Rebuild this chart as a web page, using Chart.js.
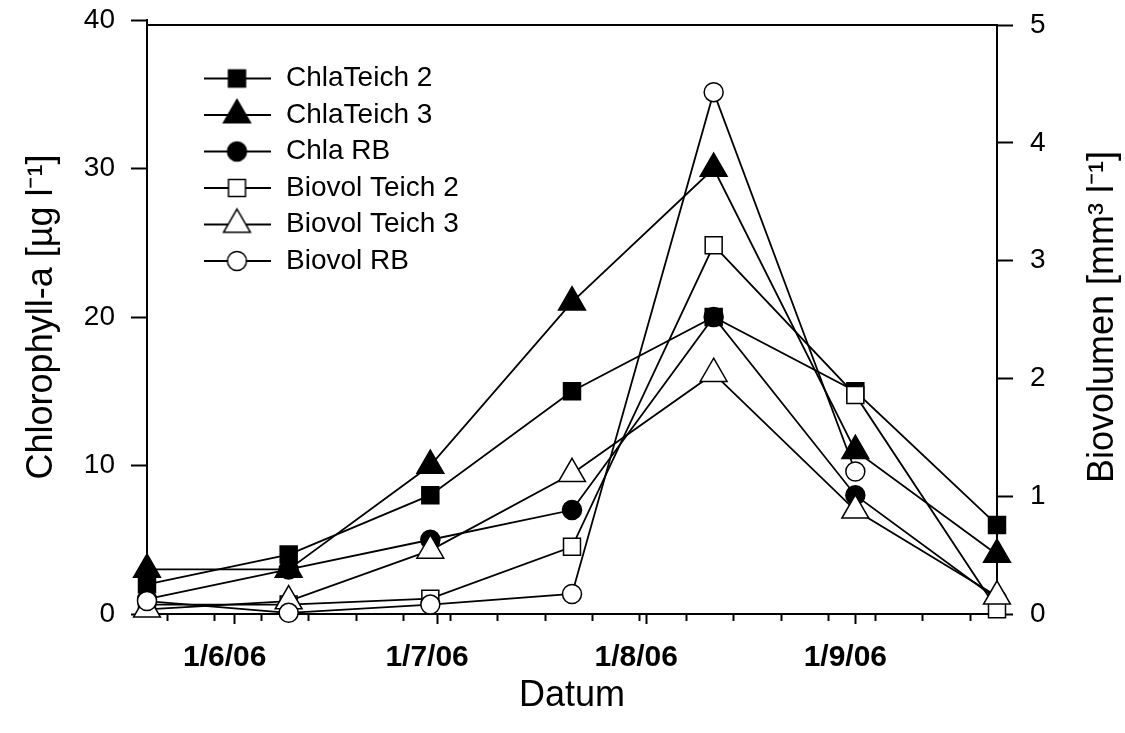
<!DOCTYPE html>
<html><head><meta charset="utf-8">
<script src="https://cdn.jsdelivr.net/npm/chart.js@4.4.1/dist/chart.umd.min.js"></script>
<style>html,body{margin:0;padding:0;background:#fff;}canvas{display:block;}</style>
</head><body>
<canvas id="c" width="1125" height="733"></canvas>
<script>
// ---------------- data ----------------
const sampleDates = ['2006-05-19','2006-06-09','2006-06-30','2006-07-21','2006-08-11','2006-09-01','2006-09-22'];
const chlaTeich2   = [2, 4, 8, 15, 20, 15, 6];
const chlaTeich3   = [3, 3, 10, 21, 30, 11, 4];
const chlaRB       = [1, 3, 5, 7, 20, 8, 1];
const biovolTeich2 = [0.08, 0.08, 0.13, 0.57, 3.13, 1.86, 0.04];
const biovolTeich3 = [0.04, 0.11, 0.54, 1.19, 2.04, 0.88, 0.15];
const biovolRB     = [0.11, 0.01, 0.08, 0.17, 4.43, 1.21, null];
const seriesNames  = ['ChlaTeich 2','ChlaTeich 3','Chla RB','Biovol Teich 2','Biovol Teich 3','Biovol RB'];
const seriesValues = [chlaTeich2, chlaTeich3, chlaRB, biovolTeich2, biovolTeich3, biovolRB];
const xRange = ['2006-05-19', '2006-09-22'];
const monthTickDates  = ['2006-06-01','2006-07-01','2006-08-01','2006-09-01'];
const monthTickLabels = ['1/6/06','1/7/06','1/8/06','1/9/06'];
const weekTickDates = ['2006-05-22','2006-05-29','2006-06-05','2006-06-12','2006-06-19','2006-06-26',
  '2006-07-03','2006-07-10','2006-07-17','2006-07-24','2006-07-31','2006-08-07','2006-08-14',
  '2006-08-21','2006-08-28','2006-09-04','2006-09-11','2006-09-18'];
const leftTicks  = [0, 10, 20, 30, 40];
const rightTicks = [0, 1, 2, 3, 4, 5];
const xTitle = 'Datum';
const leftTitle = 'Chlorophyll-a [µg l⁻¹]';
const rightTitle = 'Biovolumen [mm³ l⁻¹]';

// ---------------- styles ----------------
const FONT = "'Liberation Sans', Arial, Helvetica, sans-serif";
const markerStyles = [
  {style: 'rect', r: 12, fill: '#000'},
  {style: 'triangle', r: 15.5, fill: '#000'},
  {style: 'circle', r: 9.5, fill: '#000'},
  {style: 'rect', r: 12, fill: '#fff'},
  {style: 'triangle', r: 15.5, fill: '#fff'},
  {style: 'circle', r: 9.5, fill: '#fff'}
];

const toDay = s => Date.UTC(+s.slice(0, 4), +s.slice(5, 7) - 1, +s.slice(8, 10)) / 86400000;
const xs = sampleDates.map(toDay);

function legendIcon(m) {
  const c = document.createElement('canvas');
  c.width = 67; c.height = 40;
  const g = c.getContext('2d');
  g.strokeStyle = '#000'; g.lineWidth = 1.8;
  g.beginPath(); g.moveTo(0, 20); g.lineTo(67, 20); g.stroke();
  g.fillStyle = m.fill; g.strokeStyle = '#000'; g.lineWidth = 1.5;
  Chart.helpers.drawPoint(g, {pointStyle: m.style, radius: m.r, borderWidth: 1.5, rotation: 0}, 33.5, 20);
  return c;
}
const legendIcons = markerStyles.map(legendIcon);

const datasets = seriesNames.map((name, i) => ({
  label: name,
  data: seriesValues[i].map((v, k) => ({x: xs[k], y: v})),
  xAxisID: 'x',
  yAxisID: i < 3 ? 'y' : 'y2',
  borderColor: '#000',
  borderWidth: 1.8,
  backgroundColor: markerStyles[i].fill,
  pointStyle: markerStyles[i].style,
  pointRadius: markerStyles[i].r,
  pointHoverRadius: markerStyles[i].r,
  pointBackgroundColor: markerStyles[i].fill,
  pointBorderColor: '#000',
  pointBorderWidth: 1.5,
  tension: 0,
  fill: false,
  spanGaps: false,
  clip: false,
  order: seriesNames.length - i
}));

const framePlugin = {
  id: 'frame',
  beforeDatasetsDraw(chart) {
    const ctx = chart.ctx, a = chart.chartArea, y2 = chart.scales.y2;
    const yTop = y2.getPixelForValue(rightTicks[rightTicks.length - 1]);
    ctx.save();
    ctx.strokeStyle = '#000'; ctx.lineWidth = 2;
    ctx.beginPath();
    ctx.moveTo(a.left, yTop); ctx.lineTo(a.right, yTop); ctx.lineTo(a.right, a.bottom + 1);
    ctx.stroke();
    ctx.restore();
  },
  afterDraw(chart) {
    const ctx = chart.ctx, a = chart.chartArea;
    ctx.save();
    ctx.font = '36px ' + FONT;
    ctx.fillStyle = '#000';
    ctx.textAlign = 'center'; ctx.textBaseline = 'middle';
    ctx.translate(a.right + 106, (a.top + a.bottom) / 2);
    ctx.rotate(-Math.PI / 2);
    ctx.fillText(rightTitle, 0, 0);
    ctx.restore();
  }
};

const legendPlace = {
  id: 'legendPlace',
  afterLayout(chart) {
    const lg = chart.legend; if (!lg) return;
    const a = chart.chartArea;
    lg.left = a.left + 46.5;
    lg.top = a.top + 36;
    lg.right = lg.left + lg.width;
    lg.bottom = lg.top + lg.height;
  }
};

const baseLegendLabels = Chart.defaults.plugins.legend.labels.generateLabels;
const noPad = s => { s.paddingTop = 0; s.paddingBottom = 0; };

new Chart(document.getElementById('c'), {
  type: 'line',
  data: {datasets},
  options: {
    responsive: false,
    animation: false,
    devicePixelRatio: 1,
    layout: {padding: {top: 20, left: 0, right: 0, bottom: 0}},
    plugins: {
      tooltip: {enabled: false},
      legend: {
        position: 'chartArea',
        fullSize: false,
        align: 'start',
        labels: {
          usePointStyle: true,
          pointStyleWidth: 70,
          padding: 8.5,
          color: '#000',
          font: {family: FONT, size: 28},
          sort: (a, b) => a.datasetIndex - b.datasetIndex,
          generateLabels(chart) {
            const items = baseLegendLabels(chart);
            items.forEach(it => { it.pointStyle = legendIcons[it.datasetIndex]; it.fontColor = '#000'; });
            return items;
          }
        }
      }
    },
    scales: {
      xm: {
        type: 'linear', position: 'bottom', weight: 0,
        min: toDay(xRange[0]), max: toDay(xRange[1]),
        afterBuildTicks: s => { s.ticks = weekTickDates.map(d => ({value: toDay(d)})); },
        afterFit: s => { s.height = 0; },
        ticks: {display: false},
        grid: {drawOnChartArea: false, drawTicks: true, tickLength: 7, tickWidth: 2, tickColor: '#000'},
        border: {display: false}
      },
      x: {
        type: 'linear', position: 'bottom', weight: 1,
        min: toDay(xRange[0]), max: toDay(xRange[1]),
        afterBuildTicks: s => { s.ticks = monthTickDates.map(d => ({value: toDay(d)})); },
        afterFit: s => { s.height = 119; },
        ticks: {
          callback: (v, i) => monthTickLabels[i],
          font: {family: FONT, size: 30, weight: 'bold'},
          color: '#000', padding: 16, labelOffset: -10,
          maxRotation: 0, autoSkip: false
        },
        grid: {drawOnChartArea: false, drawTicks: true, tickLength: 10, tickWidth: 2, tickColor: '#000'},
        border: {display: true, color: '#000', width: 2},
        title: {display: true, text: xTitle, color: '#000', font: {family: FONT, size: 36}, padding: {top: 0, bottom: 15}}
      },
      y: {
        type: 'linear', position: 'left',
        min: 0, max: 40,
        afterBuildTicks: s => { s.ticks = leftTicks.map(v => ({value: v})); },
        afterFit: s => { s.width = 147; noPad(s); },
        ticks: {font: {family: FONT, size: 28}, color: '#000', padding: 16},
        grid: {drawOnChartArea: false, drawTicks: true, tickLength: 16, tickWidth: 2, tickColor: '#000'},
        border: {display: true, color: '#000', width: 2},
        title: {display: true, text: leftTitle, color: '#000', font: {family: FONT, size: 36}, padding: {top: 20, bottom: 0}}
      },
      y2: {
        type: 'linear', position: 'right',
        min: 0, max: 5.0425,
        afterBuildTicks: s => { s.ticks = rightTicks.map(v => ({value: v})); },
        afterFit: s => { s.width = 128; noPad(s); },
        ticks: {font: {family: FONT, size: 28}, color: '#000', padding: 17},
        grid: {drawOnChartArea: false, drawTicks: true, tickLength: 16, tickWidth: 2, tickColor: '#000'},
        border: {display: false}
      }
    }
  },
  plugins: [framePlugin, legendPlace]
});
</script>
</body></html>
